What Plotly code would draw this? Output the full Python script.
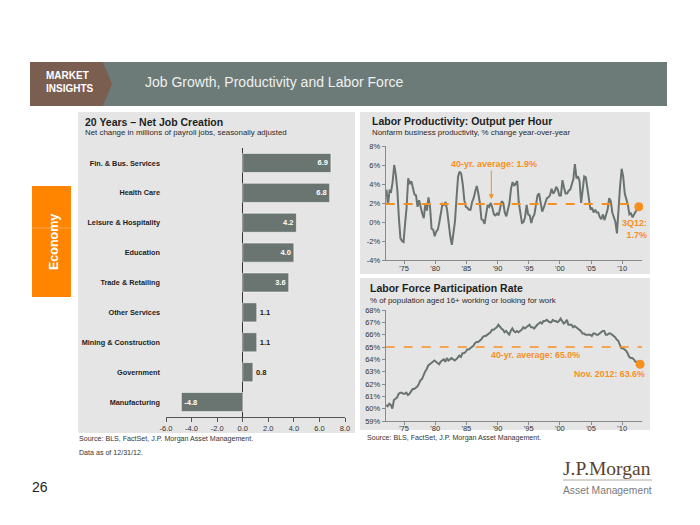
import plotly.graph_objects as go
import pandas as pd

# ---------------- data ----------------
JOB_CATEGORIES = ["Fin. & Bus. Services", "Health Care", "Leisure & Hospitality", "Education",
                  "Trade & Retailing", "Other Services", "Mining & Construction", "Government",
                  "Manufacturing"]
JOB_CHANGE = [6.9, 6.8, 4.2, 4.0, 3.6, 1.1, 1.1, 0.8, -4.8]
JOB_TICKS = [-6, -4, -2, 0, 2, 4, 6, 8]

# Nonfarm business productivity, % y/y, quarterly 1972Q1 - 2012Q3
PROD_START = "1972-03-01"
PRODUCTIVITY = [
    3.4, 1.8, 3.3, 3.2,   4.2, 6.0, 5.0, 3.4,   0.5, -1.7, -2.0, -2.1,  -0.2, 1.6, 4.6, 4.0,
    4.3, 3.5, 2.9, 2.8,   1.6, 2.3, 1.5, 0.9,   0.4, 1.9, 1.2, 2.6,   1.6, -0.7, -0.8, -1.5,
    -1.0, -0.8, 0.0, 1.1,  1.9, 1.8, 2.1, 1.2,  -0.3, -1.5, -2.4, -1.0,  0.0, 2.5, 4.8, 5.3,
    5.1, 4.0, 2.3, 1.6,   1.5, 1.3, 1.3, 2.1,   2.5, 3.2, 3.8, 3.0,   2.0, 0.3, 0.2, -0.2,
    0.8, 1.8, 1.6, 2.0,   1.5, 0.8, 0.7, 0.9,   0.7, 1.5, 2.2, 2.0,   1.0, 0.6, 1.2, 2.0,
    3.5, 4.2, 3.8, 4.1,   4.3, 2.0, 0.9, -0.1,  0.0, 0.5, 1.8, 0.8,   0.7, -0.1, 0.5, 0.8,
    1.8, 2.8, 3.0, 2.0,   1.1, 1.5, 2.0, 2.5,   2.6, 2.8, 3.5, 3.0,   3.2, 3.7, 3.4, 2.8,
    2.8, 4.4, 3.6, 3.0,   3.0, 3.3, 3.4, 4.0,   4.5, 6.1, 4.6, 4.8,   4.3, 2.0, 3.5, 4.8,
    4.7, 3.5, 2.0, 1.3,   1.5, 1.0, 1.3, 1.0,   1.0, 0.5, 0.3, 0.8,   0.2, 0.8, 1.3, 2.5,
    2.2, 1.0, 0.5, 0.0,  -1.2, 2.0, 3.8, 5.6,   4.8, 3.0, 2.5, 1.8,   0.8, 0.9, 0.5, 0.8,
    1.2, 1.4, 1.6,
]
PROD_AVG = 1.9
PROD_TICKS = [-4, -2, 0, 2, 4, 6, 8]

# Labor force participation rate, %, quarterly readings Feb 1972 - Nov 2012
PARTICIPATION = [
    60.3, 60.2, 60.4, 60.3,  60.0, 60.7, 60.8, 60.9,  61.2, 61.3, 61.3, 61.2,  61.2, 61.3, 61.1, 61.2,
    61.4, 61.6, 61.6, 61.7,  61.8, 62.0, 62.3, 62.4,  62.8, 63.0, 63.2, 63.5,  63.6, 63.7, 63.8, 63.9,
    63.8, 63.7, 63.6, 63.8,  63.9, 64.0, 63.8, 64.1,  63.9, 64.0, 64.1, 64.0,  63.9, 64.0, 64.2, 64.3,
    64.2, 64.5, 64.5, 64.6,  64.8, 64.8, 64.9, 65.0,  65.1, 65.3, 65.4, 65.4,  65.5, 65.6, 65.8, 65.9,
    65.9, 66.0, 66.1, 66.2,  66.4, 66.4, 66.5, 66.6,  66.8, 66.6, 66.5, 66.4,  66.2, 66.3, 66.1, 66.0,
    66.3, 66.5, 66.3, 66.2,  66.3, 66.2, 66.3, 66.4,  66.6, 66.5, 66.6, 66.7,  66.8, 66.6, 66.6, 66.5,
    66.7, 66.8, 66.9, 67.0,  66.9, 67.1, 67.1, 67.2,  67.1, 67.0, 67.0, 67.2,  67.1, 67.1, 67.0, 67.1,
    67.3, 67.1, 66.9, 67.0,  67.2, 66.8, 66.8, 66.8,  66.6, 66.7, 66.6, 66.5,  66.4, 66.3, 66.1, 66.1,
    66.0, 66.0, 66.0, 66.0,  65.9, 66.1, 66.1, 66.0,  66.0, 66.1, 66.2, 66.3,  66.3, 66.0, 66.0, 66.1,
    66.1, 66.0, 65.9, 65.8,  65.6, 65.5, 65.2, 64.9,  64.9, 64.8, 64.7, 64.5,  64.2, 64.1, 64.1, 64.0,
    63.8, 63.8, 63.6, 63.6,
]
LFPR_START = "1972-02-01"
LFPR_AVG = 65.0
LFPR_TICKS = [59, 60, 61, 62, 63, 64, 65, 66, 67, 68]

YEAR_TICKS = [1975, 1980, 1985, 1990, 1995, 2000, 2005, 2010]
YEAR_TICK_LABELS = ["'75", "'80", "'85", "'90", "'95", "'00", "'05", "'10"]

# ---------------- helpers ----------------
# the page body has an 8px margin; the figure is sized so that it fills the rest of the window
OFF = 8
W, H = 700 - OFF, 525 - OFF
def fx(x):
    return (x - OFF) / W
def fy(y):
    return 1 - (y - OFF) / H

FONT = "Liberation Sans, Arial, sans-serif"
ORANGE = "#f7901e"
LINE = "#69746f"
AXIS = "#8a8a8a"
TXT = "#1e1e1e"

prod_dates = pd.date_range(PROD_START, periods=len(PRODUCTIVITY), freq="3MS")
lfpr_dates = pd.date_range(LFPR_START, periods=len(PARTICIPATION), freq="3MS") + pd.Timedelta(days=14)
tick_dates = [f"{y}-01-01" for y in YEAR_TICKS]
XRANGE = ["1972-01-20", "2013-03-08"]

fig = go.Figure()

# ---- bar chart ----
fig.add_trace(go.Bar(
    x=JOB_CHANGE, y=JOB_CATEGORIES, orientation="h",
    marker=dict(color="#6a7571", line=dict(color="rgba(255,255,255,0.55)", width=1)),
    text=[f"{v:.1f}" for v in JOB_CHANGE],
    textposition=["inside" if abs(v) > 2 else "outside" for v in JOB_CHANGE],
    insidetextanchor="end",
    insidetextfont=dict(color="white", size=7.5, family=FONT, weight="bold"),
    outsidetextfont=dict(color=TXT, size=7.5, family=FONT, weight="bold"),
    textangle=0, cliponaxis=False, showlegend=False, hoverinfo="skip",
    xaxis="x", yaxis="y",
))

# ---- productivity ----
fig.add_trace(go.Scatter(
    x=prod_dates, y=PRODUCTIVITY, mode="lines",
    line=dict(color=LINE, width=2), showlegend=False, hoverinfo="skip",
    xaxis="x2", yaxis="y2",
))
fig.add_trace(go.Scatter(
    x=[prod_dates[-1]], y=[PRODUCTIVITY[-1]], mode="markers",
    marker=dict(color=ORANGE, size=9), showlegend=False, hoverinfo="skip",
    xaxis="x2", yaxis="y2", cliponaxis=False,
))

# ---- participation ----
fig.add_trace(go.Scatter(
    x=lfpr_dates, y=PARTICIPATION, mode="lines",
    line=dict(color=LINE, width=2), showlegend=False, hoverinfo="skip",
    xaxis="x3", yaxis="y3",
))
fig.add_trace(go.Scatter(
    x=[lfpr_dates[-1]], y=[PARTICIPATION[-1]], mode="markers",
    marker=dict(color=ORANGE, size=9), showlegend=False, hoverinfo="skip",
    xaxis="x3", yaxis="y3", cliponaxis=False,
))

tickfont = dict(family=FONT, size=7.5, color="#333333")

fig.update_layout(
    width=W, height=H, margin=dict(l=0, r=0, t=0, b=0, pad=0, autoexpand=False),
    paper_bgcolor="white", plot_bgcolor="rgba(0,0,0,0)",
    font=dict(family=FONT, color=TXT),
    bargap=0.36,
    xaxis=dict(domain=[fx(166), fx(345)], range=[-6, 8], tickvals=JOB_TICKS,
               ticktext=[f"{v:.1f}" for v in JOB_TICKS], showgrid=False, showline=True,
               linecolor="#555555", ticks="outside", ticklen=4, tickcolor="#555555",
               tickfont=tickfont, zeroline=True, zerolinecolor="#333333", zerolinewidth=1,
               anchor="y"),
    yaxis=dict(domain=[fy(417), fy(148)], autorange="reversed", showgrid=False,
               showline=False, ticks="", ticklabelstandoff=5,
               tickfont=dict(family=FONT, size=7.3, color=TXT, weight="bold"), anchor="x"),
    xaxis2=dict(domain=[fx(385.7), fx(642)], range=XRANGE, type="date",
                tickvals=tick_dates, ticktext=YEAR_TICK_LABELS, showgrid=False,
                showline=True, linecolor=AXIS, ticks="outside", ticklen=3, tickcolor=AXIS,
                ticklabelstandoff=-2, tickfont=tickfont, zeroline=False, anchor="y2"),
    yaxis2=dict(domain=[fy(260), fy(146)], range=[-4, 8], tickvals=PROD_TICKS,
                ticktext=[f"{v}%" for v in PROD_TICKS],
                showgrid=False, showline=True, linecolor=AXIS, ticks="outside", ticklen=3,
                tickcolor=AXIS, tickfont=tickfont, zeroline=False, anchor="x2"),
    xaxis3=dict(domain=[fx(385.7), fx(642)], range=XRANGE, type="date",
                tickvals=tick_dates, ticktext=YEAR_TICK_LABELS, showgrid=False,
                showline=True, linecolor=AXIS, ticks="outside", ticklen=3, tickcolor=AXIS,
                ticklabelstandoff=-3, tickfont=tickfont, zeroline=False, anchor="y3"),
    yaxis3=dict(domain=[fy(421), fy(310)], range=[59, 68], tickvals=LFPR_TICKS,
                ticktext=[f"{v}%" for v in LFPR_TICKS],
                showgrid=False, showline=True, linecolor=AXIS, ticks="outside", ticklen=3,
                tickcolor=AXIS, tickfont=tickfont, zeroline=False, anchor="x3"),
)

# ---------------- shapes ----------------
shapes = []
def rect(x0, y0, x1, y1, color, layer="below", line=None):
    shapes.append(dict(type="rect", xref="paper", yref="paper",
                       x0=fx(x0), x1=fx(x1), y0=fy(y1), y1=fy(y0),
                       fillcolor=color, line=line or dict(width=0), layer=layer))

# header band
rect(30, 62, 667, 106, "#6c7b78")
shapes.append(dict(type="path", xref="paper", yref="paper", layer="below",
                   path=f"M {fx(30)} {fy(62)} L {fx(103)} {fy(62)} L {fx(112)} {fy(84)} "
                        f"L {fx(103)} {fy(106)} L {fx(30)} {fy(106)} Z",
                   fillcolor="#7a5e4f", line=dict(width=0)))
# panels
rect(78, 112, 355, 433, "#e5e5e5")
rect(360, 112, 650, 274, "#e5e5e5")
rect(360, 278, 650, 430, "#e5e5e5")
# economy tab
rect(32, 186, 71, 297, "#ff8400")
shapes.append(dict(type="line", xref="paper", yref="paper", layer="below",
                   x0=fx(32), x1=fx(71), y0=fy(228), y1=fy(228),
                   line=dict(color="#ffa54d", width=1)))
# logo rule
shapes.append(dict(type="line", xref="paper", yref="paper",
                   x0=fx(563), x1=fx(652), y0=fy(480), y1=fy(480),
                   line=dict(color="#b0a8a0", width=1)))
# average lines
shapes.append(dict(type="line", xref="x2 domain", yref="y2", x0=0, x1=1,
                   y0=PROD_AVG, y1=PROD_AVG, line=dict(color=ORANGE, width=2, dash="dash")))
shapes.append(dict(type="line", xref="x3 domain", yref="y3", x0=0, x1=1,
                   y0=LFPR_AVG, y1=LFPR_AVG, line=dict(color=ORANGE, width=1.5, dash="dash")))
fig.update_layout(shapes=shapes)

# ---------------- annotations ----------------
ann = []
def text(x, y, s, size, color=TXT, bold=False, xanchor="left", family=FONT, **kw):
    ann.append(dict(xref="paper", yref="paper", x=fx(x), y=fy(y), text=s, showarrow=False,
                    xanchor=xanchor, yanchor="middle",
                    font=dict(family=family, size=size, color=color,
                              weight="bold" if bold else "normal"), **kw))

# header
text(44, 75, "MARKET", 10, "white", True)
text(44, 88, "INSIGHTS", 10, "white", True)
text(143, 82, "Job Growth, Productivity and Labor Force", 14, "#eef0ef")

# titles
text(83, 122, "20 Years \u2013 Net Job Creation", 10.5, bold=True)
text(83, 133, "Net change in millions of payroll jobs, seasonally adjusted", 7.9, "#2a2a2a")
text(370, 121, "Labor Productivity: Output per Hour", 10.5, bold=True)
text(370, 133, "Nonfarm business productivity, % change year-over-year", 7.9, "#2a2a2a")
text(368, 288, "Labor Force Participation Rate", 10.5, bold=True)
text(368, 300, "% of population aged 16+ working or looking for work", 7.9, "#2a2a2a")

# sources
text(77, 439, "Source: BLS, FactSet, J.P. Morgan Asset Management.", 7.1, "#333333")
text(77, 453, "Data as of 12/31/12.", 7.1, "#333333")
text(365, 438, "Source: BLS, FactSet, J.P. Morgan Asset Management.", 7.1, "#333333")

# side tab, page number, logo
text(54, 242, "Economy", 12.5, "white", True, xanchor="center", textangle=-90)
text(40, 487, "26", 14, "#222222", xanchor="center")
text(607, 468, "J.P.Morgan", 19.5, "#5b3f2c", xanchor="center",
     family="Liberation Serif, Times New Roman, serif")
text(607, 490, "Asset Management", 10.3, "#7a7a7a", xanchor="center")

# chart call-outs
text(494, 164, "40-yr. average: 1.9%", 9, ORANGE, True, xanchor="center")
text(649, 229, "3Q12:<br>1.7%", 9, ORANGE, True, xanchor="right", align="right")
text(535, 355, "40-yr. average: 65.0%", 8.8, ORANGE, True, xanchor="center")
text(647, 374, "Nov. 2012: 63.6%", 8.8, ORANGE, True, xanchor="right")

# arrow to the average line
ann.append(dict(xref="x2", yref="y2", x="1989-01-01", y=2.4, ax=0, ay=-30,
                axref="pixel", ayref="pixel", text="", showarrow=True,
                arrowhead=2, arrowsize=1, arrowwidth=1, arrowcolor=ORANGE))

fig.update_layout(annotations=ann)

fig.write_html("out.html")
